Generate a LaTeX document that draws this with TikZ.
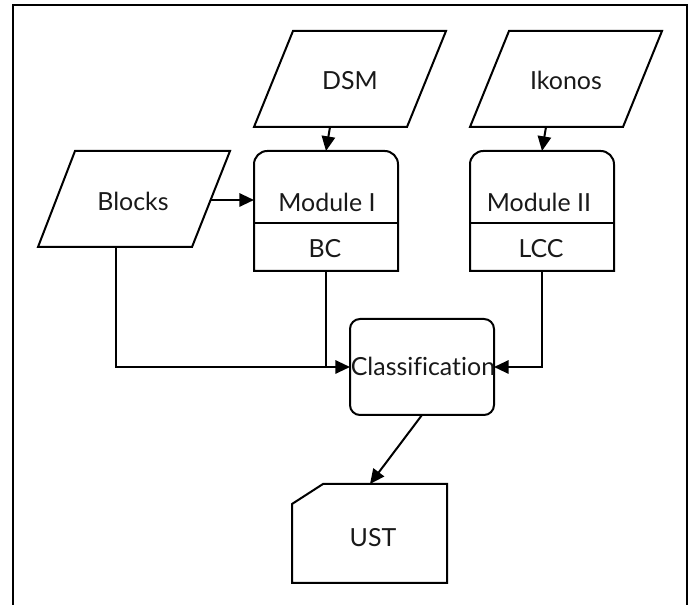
\documentclass[tikz,border=0pt]{standalone}
\usepackage{fontspec}
\setmainfont{Lato}[Ligatures=NoCommon]
\usetikzlibrary{arrows.meta}
\begin{document}
\begin{tikzpicture}[x=0.75pt,y=-0.75pt,line width=1.5pt,line join=miter,
  lbl/.style={font=\fontsize{18.7}{22}\selectfont,inner sep=0pt,anchor=base,text=black!90},
  conn/.style={-{Triangle[length=11pt,width=10pt]}},
  shapeline/.style={draw=black}]
\useasboundingbox (0,0) rectangle (694,605);
% frame
\draw (12.5,610) -- (12.5,5.5) -- (686.5,5.5) -- (686.5,610);

% DSM
\draw[shapeline] (293,31) -- (446,31) -- (407,127) -- (254,127) -- cycle;
\node[lbl] (dsm) at (350,90) {DSM};
\coordinate (dsmb) at (330,127);

% Ikonos
\draw[shapeline] (509,31) -- (662,31) -- (623,127) -- (470,127) -- cycle;
\node[lbl] (ikonos) at (566,90) {Ikonos};
\coordinate (ikob) at (546,127);

% Blocks
\draw[shapeline] (75,151) -- (230,151) -- (192,247) -- (38,247) -- cycle;
\node[lbl] (blocks) at (133,211) {Blocks};
\coordinate (blocksr) at (210.5,200);
\coordinate (blocksb) at (116,247);

% Module I
\draw[shapeline] (254,271) -- (254,200) [rounded corners=10pt] -- (254,151) -- (398,151) -- (398,200) [sharp corners] -- (398,271) -- cycle;
\draw[shapeline] (254,223) -- (398,223);
\node[lbl] (mod1) at (327,212) {Module I};
\node[lbl] (bc) at (325,258) {BC};
\coordinate (m1t) at (326,151);
\coordinate (m1l) at (254,200);
\coordinate (m1b) at (326,271);

% Module II
\draw[shapeline] (470,271) -- (470,200) [rounded corners=10pt] -- (470,151) -- (614,151) -- (614,200) [sharp corners] -- (614,271) -- cycle;
\draw[shapeline] (470,223) -- (614,223);
\node[lbl] (mod2) at (539,212) {Module II};
\node[lbl] (lcc) at (541,258) {LCC};
\coordinate (m2t) at (542,151);
\coordinate (m2b) at (542,271);

% Classification
\draw[shapeline,rounded corners=7.5pt] (350,319) rectangle (494,415);
\node[lbl] (cls) at (423,376) {Classification};
\coordinate (clsl) at (350,367);
\coordinate (clsr) at (494,367);
\coordinate (clsb) at (422,415);

% UST
\draw[shapeline] (292,504) -- (323,484) -- (447,484) -- (447,583) -- (292,583) -- cycle;
\node[lbl] (ust) at (373,547) {UST};
\coordinate (ustt) at (370,484);

% connectors
\draw[conn] (dsmb) -- (m1t);
\draw[conn] (ikob) -- (m2t);
\draw[conn] (blocksr) -- (m1l);
\draw[conn] (blocksb) |- (clsl);
\draw (m1b) -- (m1b |- clsl);
\draw[conn] (m2b) |- (clsr);
\draw[conn] (clsb) -- (ustt);
\end{tikzpicture}
\end{document}
